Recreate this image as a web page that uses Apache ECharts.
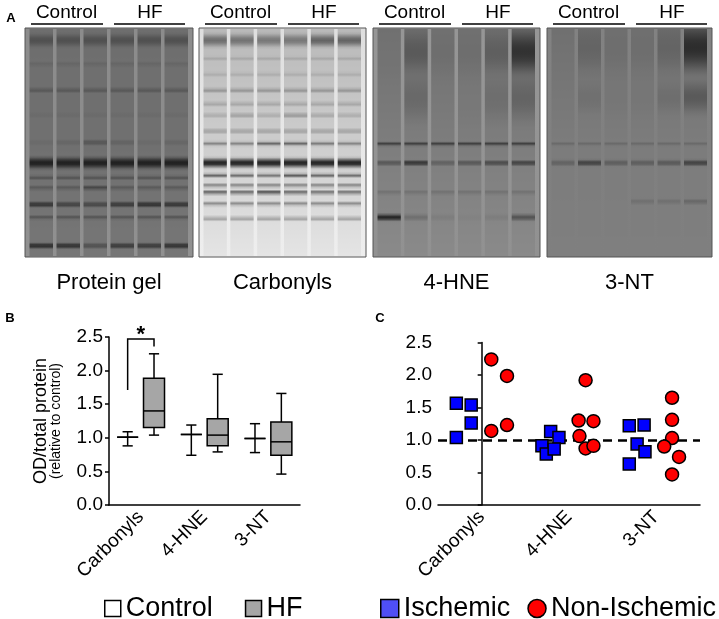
<!DOCTYPE html>
<html>
<head>
<meta charset="utf-8">
<script src="https://cdn.jsdelivr.net/npm/echarts@6/dist/echarts.min.js"></script>
<style>
  html, body { margin: 0; padding: 0; background: #fff; }
  #main { width: 719px; height: 619px; }
</style>
</head>
<body>
<div id="main"></div>
<script>
// ---- data ----
const categories = ['Carbonyls', '4-HNE', '3-NT'];
// box stats per category: [min, Q1, median, Q3, max]
const controlBox = [[0.88, 1.01, 1.01, 1.01, 1.09], [0.74, 1.05, 1.05, 1.05, 1.19], [0.78, 0.99, 0.99, 0.99, 1.21]];
const hfBox = [[1.04, 1.155, 1.40, 1.885, 2.25], [0.79, 0.88, 1.04, 1.285, 1.945], [0.46, 0.74, 0.94, 1.235, 1.66]];
// significance bracket: category, left foot, top, right foot
const sigBracket = [0, 1.71, 2.47, 2.36];

// HF patients split by aetiology
const ischemicVals = [[1.565, 1.54, 1.26, 1.04], [0.91, 1.13, 1.04, 0.785, 0.86], [1.22, 1.23, 0.94, 0.82, 0.63]];
const ischemicJitter = [[-0.29, -0.12, -0.12, -0.29], [-0.31, -0.21, -0.115, -0.26, -0.17], [-0.31, -0.14, -0.22, -0.13, -0.31]];
const nonIschemicVals = [[2.24, 1.985, 1.14, 1.23], [1.92, 1.30, 1.29, 1.06, 0.87, 0.91], [1.65, 1.31, 1.03, 0.90, 0.74, 0.47]];
const nonIschemicJitter = [[0.11, 0.29, 0.11, 0.29], [0.19, 0.11, 0.28, 0.12, 0.19, 0.28], [0.18, 0.18, 0.18, 0.09, 0.26, 0.18]];

// gel blots (grey levels 0-255), one profile per panel
const gelLabels = ['Protein gel', 'Carbonyls', '4-HNE', '3-NT'];
const gelGap = [[140, 140, 145], [222, 232, 238], [150, 148, 145], [130, 128, 127]];
const gelLane = [[110, 112, 118], [185, 205, 228], [112, 125, 138], [112, 124, 127]];
// band: [position, half width, level (one or per lane)]
const gelBands = [
  [[0.05, 0.04, 80], [0.155, 0.012, 100], [0.27, 0.014, 85], [0.38, 0.012, 105],
   [0.50, 0.014, [105, 100, 80, 95, 105, 100]], [0.59, 0.035, 30], [0.655, 0.012, 80],
   [0.70, 0.012, [85, 85, 60, 85, 85, 85]], [0.773, 0.016, [45, 60, 65, 50, 40, 45]],
   [0.83, 0.012, 80], [0.955, 0.016, [35, 40, 75, 50, 50, 40]]],
  [[0.05, 0.04, [110, 115, 120, 120, 100, 100]], [0.13, 0.012, 165], [0.2, 0.012, 170], [0.27, 0.012, 140],
   [0.33, 0.012, 160], [0.38, 0.012, [165, 150, 165, 140, 160, 165]], [0.45, 0.012, 150],
   [0.505, 0.013, [130, 130, 100, 100, 120, 130]], [0.59, 0.03, 30], [0.645, 0.012, [90, 100, 110, 80, 95, 100]],
   [0.69, 0.01, 110], [0.72, 0.012, [80, 90, 60, 90, 100, 100]], [0.77, 0.012, 130], [0.835, 0.012, 150]],
  [[0.1, 0.14, [115, 90, 110, 110, 95, 50]], [0.3, 0.15, [130, 105, 125, 120, 110, 100]],
   [0.506, 0.012, 60], [0.59, 0.015, [80, 40, 90, 80, 65, 55]], [0.72, 0.012, 110],
   [0.83, 0.02, [30, 110, 125, 130, 125, 80]]],
  [[0.08, 0.15, [118, 100, 110, 110, 100, 45]], [0.3, 0.1, [120, 112, 118, 118, 110, 90]],
   [0.506, 0.012, 105], [0.59, 0.018, [95, 60, 90, 90, 85, 60]],
   [0.76, 0.015, [127, 127, 127, 110, 110, 100]]]
];

const FONT = 'Liberation Sans, Arial, sans-serif';
const chart = echarts.init(document.getElementById('main'));

// ---- gel pictures as graphic elements ----
const gray = g => { const v = Math.round(g); return 'rgb(' + v + ',' + v + ',' + v + ')'; };
const lerp3 = (c, t) => t < 0.5 ? c[0] + (c[1] - c[0]) * t / 0.5 : c[1] + (c[2] - c[1]) * (t - 0.5) / 0.5;

function laneStops(gi, lane) {
  const stops = [];
  for (let i = 0; i < 100; i++) {
    const t = i / 99;
    let g = lerp3(gelLane[gi], t);
    gelBands[gi].forEach(b => {
      const d = Math.abs(t - b[0]);
      if (d < b[1]) {
        const lv = Array.isArray(b[2]) ? b[2][lane] : b[2];
        const k = 0.5 * (1 + Math.cos(Math.PI * d / b[1]));
        g = Math.min(g, g + (lv - g) * k);
      }
    });
    stops.push({ offset: t, color: gray(g) });
  }
  return stops;
}

const gelX = [25, 199, 373, 547];
const gelW = [168, 167, 167, 165];
const gelTop = 28, gelH = 229;
const graphics = [];
gelX.forEach((x0, gi) => {
  const w = gelW[gi];
  graphics.push({
    type: 'rect', shape: { x: x0, y: gelTop, width: w, height: gelH },
    style: {
      fill: { type: 'linear', x: 0, y: 0, x2: 0, y2: 1, colorStops: [
        { offset: 0, color: gray(gelGap[gi][0]) }, { offset: 0.5, color: gray(gelGap[gi][1]) },
        { offset: 1, color: gray(gelGap[gi][2]) }] },
      stroke: '#555', lineWidth: 1
    }
  });
  const pitch = (w - 6) / 6;
  for (let l = 0; l < 6; l++) {
    graphics.push({
      type: 'rect',
      shape: { x: x0 + 3 + l * pitch + 1.5, y: gelTop + 1, width: pitch - 3.5, height: gelH - 2 },
      style: { fill: { type: 'linear', x: 0, y: 0, x2: 0, y2: 1, colorStops: laneStops(gi, l) } }
    });
  }
  // group headers
  graphics.push({ type: 'text', x: x0 + 41.5, y: 13, style: { text: 'Control', font: '19px ' + FONT, fill: '#000', textAlign: 'center', textVerticalAlign: 'middle' } });
  graphics.push({ type: 'text', x: x0 + 125, y: 13, style: { text: 'HF', font: '19px ' + FONT, fill: '#000', textAlign: 'center', textVerticalAlign: 'middle' } });
  graphics.push({ type: 'line', shape: { x1: x0 + 6, y1: 24, x2: x0 + 78, y2: 24 }, style: { stroke: '#000', lineWidth: 1.5 } });
  graphics.push({ type: 'line', shape: { x1: x0 + 89, y1: 24, x2: x0 + 160, y2: 24 }, style: { stroke: '#000', lineWidth: 1.5 } });
  graphics.push({ type: 'text', x: x0 + w / 2, y: 283, style: { text: gelLabels[gi], font: '22px ' + FONT, fill: '#000', textAlign: 'center', textVerticalAlign: 'middle' } });
});
[['A', 11, 18], ['B', 10, 318], ['C', 380, 318]].forEach(p => {
  graphics.push({ type: 'text', x: p[1], y: p[2], style: { text: p[0], font: 'bold 13px ' + FONT, fill: '#000', textAlign: 'center', textVerticalAlign: 'middle' } });
});

// ---- box plot (panel B) ----
const BOX_OFF = 0.207, BOX_HALF = 0.165, CAP_HALF = 0.08;
function boxRenderer(offset, fill) {
  return function (params, api) {
    const c = api.value(0);
    const band = api.size([1, 0])[0];
    const x = api.coord([c, 0])[0] + offset * band;
    const y = [1, 2, 3, 4, 5].map(i => api.coord([c, api.value(i)])[1]);
    const hw = band * BOX_HALF, cw = band * CAP_HALF;
    const ls = { stroke: '#000', lineWidth: 1.5 };
    return {
      type: 'group',
      children: [
        { type: 'line', shape: { x1: x, y1: y[4], x2: x, y2: y[3] }, style: ls },
        { type: 'line', shape: { x1: x, y1: y[1], x2: x, y2: y[0] }, style: ls },
        { type: 'line', shape: { x1: x - cw, y1: y[4], x2: x + cw, y2: y[4] }, style: ls },
        { type: 'line', shape: { x1: x - cw, y1: y[0], x2: x + cw, y2: y[0] }, style: ls },
        { type: 'rect', shape: { x: x - hw, y: y[3], width: 2 * hw, height: y[1] - y[3] }, style: { fill: fill, stroke: '#000', lineWidth: 1.5 } },
        { type: 'line', shape: { x1: x - hw, y1: y[2], x2: x + hw, y2: y[2] }, style: ls }
      ]
    };
  };
}
const boxData = arr => arr.map((s, i) => [i].concat(s));

// ---- scatter (panel C) ----
const scatterData = (vals, jit) => {
  const out = [];
  vals.forEach((list, ci) => list.forEach((v, k) => out.push([ci + jit[ci][k], v])));
  return out;
};

const axisLine = { show: true, lineStyle: { color: '#000', width: 1.5 } };
const yAxisBase = {
  type: 'value', min: 0, max: 2.5, interval: 0.5,
  axisLine: axisLine,
  axisTick: { show: true, length: 4, lineStyle: { color: '#000', width: 1.5 } },
  axisLabel: { color: '#000', fontSize: 19, fontFamily: FONT, margin: 6, formatter: v => v.toFixed(1) },
  splitLine: { show: false }
};
const xCatBase = {
  type: 'category', data: categories,
  axisLine: axisLine, axisTick: { show: false },
  axisLabel: { color: '#000', fontSize: 19, fontFamily: FONT, rotate: 45, margin: 9, interval: 0 },
  splitLine: { show: false }
};

const option = {
  backgroundColor: '#fff',
  animation: false,
  textStyle: { fontFamily: FONT },
  graphic: { elements: graphics },
  grid: [
    { left: 109, top: 337, width: 191, height: 168, outerBoundsMode: 'none' },
    { left: 438, top: 342.5, width: 262, height: 162.5, outerBoundsMode: 'none' }
  ],
  xAxis: [
    Object.assign({ gridIndex: 0 }, xCatBase),
    Object.assign({ gridIndex: 1 }, xCatBase),
    { type: 'value', gridIndex: 1, min: -0.5, max: 2.5, show: false }
  ],
  yAxis: [
    Object.assign({ gridIndex: 0 }, yAxisBase, {
      name: '{a|OD/total protein}\n{b|(relative to control)}',
      nameLocation: 'middle', nameRotate: 90, nameGap: 45,
      nameTextStyle: { color: '#000', rich: { a: { fontSize: 18, lineHeight: 16, fontFamily: FONT }, b: { fontSize: 14, lineHeight: 15, fontFamily: FONT } } }
    }),
    Object.assign({ gridIndex: 1 }, yAxisBase)
  ],
  legend: [
    {
      left: 104, top: 595, padding: 0, itemWidth: 16, itemHeight: 16, itemGap: 32, selectedMode: false,
      textStyle: { fontSize: 27, color: '#000', fontFamily: FONT },
      data: [
        { name: 'Control', icon: 'rect', itemStyle: { color: '#fff', borderColor: '#000', borderWidth: 1.5 } },
        { name: 'HF', icon: 'rect', itemStyle: { color: '#a6a6a6', borderColor: '#000', borderWidth: 1.5 } }
      ]
    },
    {
      left: 380, top: 595, padding: 0, width: 339, itemWidth: 18, itemHeight: 18, itemGap: 17, selectedMode: false,
      textStyle: { fontSize: 27, color: '#000', fontFamily: FONT },
      data: [
        { name: 'Ischemic', icon: 'rect', itemStyle: { color: '#4f4ff5', borderColor: '#000', borderWidth: 1.5 } },
        { name: 'Non-Ischemic', icon: 'circle', itemStyle: { color: '#ff0000', borderColor: '#000', borderWidth: 1.5 } }
      ]
    }
  ],
  series: [
    {
      name: 'Control', type: 'custom', xAxisIndex: 0, yAxisIndex: 0, clip: false,
      itemStyle: { color: '#fff', borderColor: '#000' },
      encode: { x: 0, y: [1, 2, 3, 4, 5] },
      renderItem: boxRenderer(-BOX_OFF, '#fff'),
      data: boxData(controlBox)
    },
    {
      name: 'HF', type: 'custom', xAxisIndex: 0, yAxisIndex: 0, clip: false,
      itemStyle: { color: '#a6a6a6', borderColor: '#000' },
      encode: { x: 0, y: [1, 2, 3, 4, 5] },
      renderItem: boxRenderer(BOX_OFF, '#a6a6a6'),
      data: boxData(hfBox)
    },
    {
      type: 'custom', xAxisIndex: 0, yAxisIndex: 0, clip: false, silent: true,
      encode: { x: 0, y: [1, 2, 3] },
      renderItem: function (params, api) {
        const c = api.value(0);
        const band = api.size([1, 0])[0];
        const cx = api.coord([c, 0])[0];
        const xl = cx - BOX_OFF * band, xr = cx + BOX_OFF * band;
        const yl = api.coord([c, api.value(1)])[1];
        const yt = api.coord([c, api.value(2)])[1];
        const yr = api.coord([c, api.value(3)])[1];
        return {
          type: 'group',
          children: [
            { type: 'polyline', shape: { points: [[xl, yl], [xl, yt], [xr, yt], [xr, yr]] }, style: { stroke: '#000', lineWidth: 1.5, fill: null } },
            { type: 'text', x: (xl + xr) / 2, y: yt - 4, style: { text: '*', font: 'bold 22px ' + FONT, fill: '#000', textAlign: 'center', textVerticalAlign: 'middle' } }
          ]
        };
      },
      data: [sigBracket]
    },
    {
      name: 'Ischemic', type: 'scatter', xAxisIndex: 2, yAxisIndex: 1, z: 3,
      symbol: 'rect', symbolSize: 12,
      itemStyle: { color: '#0000ff', borderColor: '#000', borderWidth: 1.5, opacity: 1 },
      data: scatterData(ischemicVals, ischemicJitter),
      markLine: {
        z: 1, silent: true, symbol: 'none', label: { show: false },
        lineStyle: { color: '#000', width: 2.5, type: [9, 6] },
        data: [{ yAxis: 1 }]
      }
    },
    {
      name: 'Non-Ischemic', type: 'scatter', xAxisIndex: 2, yAxisIndex: 1, z: 3,
      symbol: 'circle', symbolSize: 13,
      itemStyle: { color: '#ff0000', borderColor: '#000', borderWidth: 1.5, opacity: 1 },
      data: scatterData(nonIschemicVals, nonIschemicJitter)
    }
  ]
};
chart.setOption(option);
</script>
</body>
</html>
